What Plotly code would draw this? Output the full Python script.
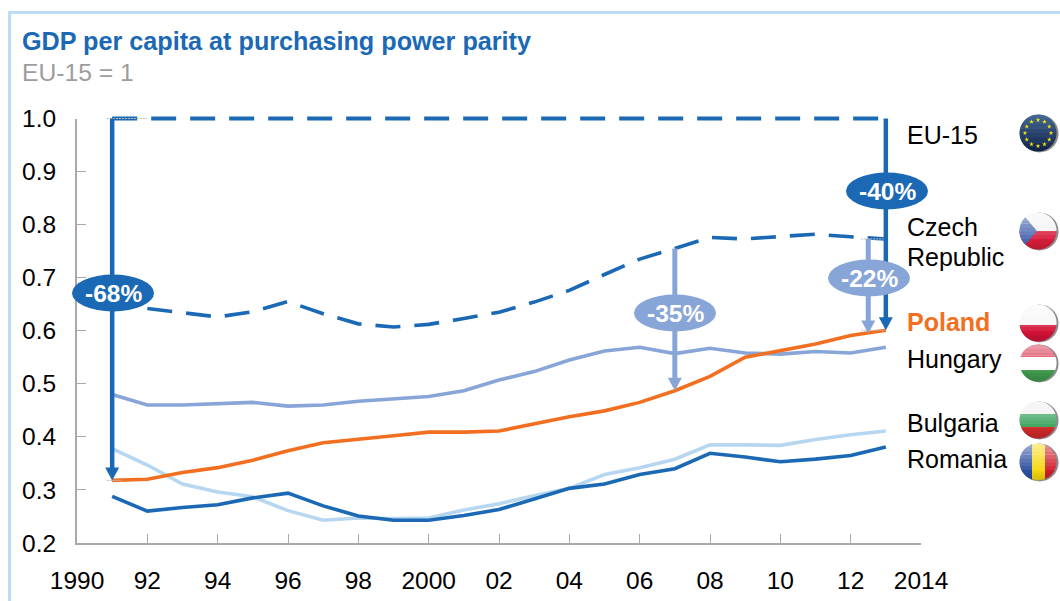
import numpy as np
import plotly.graph_objects as go

# ---------- data ----------
years = list(range(1991, 2014))
eu15 = [1.0] * 23
czech_years = list(range(1992, 2014))
czech = [.642, .634, .626, .636, .655, .632, .613, .607, .612, .623, .635, .654, .676, .706, .735, .755, .776, .773, .777, .782, .777, .773]
hungary = [.48, .46, .46, .463, .465, .458, .46, .467, .471, .476, .487, .507, .523, .545, .562, .569, .557, .567, .558, .556, .561, .558, .569]
poland = [.318, .32, .333, .342, .356, .374, .389, .395, .402, .409, .409, .411, .424, .438, .449, .465, .487, .514, .55, .562, .575, .591, .601]
bulgaria = [.378, .347, .311, .296, .287, .261, .243, .247, .246, .247, .262, .274, .289, .303, .329, .342, .358, .385, .385, .384, .395, .404, .411]
romania = [.288, .26, .267, .272, .285, .294, .27, .251, .243, .243, .252, .263, .283, .303, .311, .329, .34, .369, .362, .353, .358, .365, .381]

x_ticks = list(range(1990, 2015, 2))
x_labels = ["1990", "92", "94", "96", "98", "2000", "02", "04", "06", "08", "10", "12", "2014"]
y_ticks = [.2, .3, .4, .5, .6, .7, .8, .9, 1.0]
y_labels = ["0.2", "0.3", "0.4", "0.5", "0.6", "0.7", "0.8", "0.9", "1.0"]

# (x year, from, to, label)
gaps_dark = [(1991, 1.0, .318, "-68%"), (2013, 1.0, .601, "-40%")]
gaps_light = [(2007, .755, .487, "-35%"), (2012.5, .773, .595, "-22%")]

# ---------- style ----------
W, H = 1060, 601
FONT = "Liberation Sans"
BLUE = "#1b69b5"
MID = "#88a5d8"
ORANGE = "#f26f21"
PALE = "#b7d7f1"
GREY = "#a9a9a9"
FS = 24.5
LS = 25
PLOT_TOP, PLOT_BOTTOM = 118.5, 543
TOP_ROOM = 0.02  # extra value room so the line at 1.0 is not cut by the plot edge

fig = go.Figure()


def series(x, y, color, dash="solid", width=3.6, yaxis="y"):
    fig.add_trace(go.Scatter(x=x, y=y, yaxis=yaxis, mode="lines", hoverinfo="skip", showlegend=False, cliponaxis=False,
                             line=dict(color=color, width=width, dash=dash, shape="linear")))


series(years, bulgaria, PALE)
series(years, romania, BLUE)
series(years, hungary, MID)
series(years, poland, ORANGE)
series(czech_years, czech, BLUE, "25px,14px")
series(years, eu15, BLUE, "25px,14px", 4, yaxis="y3")

# thin guide ticks at arrow ends
for xs, v in [((1990.85, 1992), 1.0), ((1990.85, 1991.3), .318), ((2012.3, 2013), .773), ((2012.3, 2013), .601)]:
    series(list(xs), [v, v], "#bdbdbd", "2px,1px", 1, yaxis="y3")

shapes = []
annos = []


def head(x, v, color, hw=7, hh=13):
    shapes.append(dict(type="path", xref="x", yref="y", xsizemode="pixel", ysizemode="pixel",
                       xanchor=x, yanchor=v, path=f"M {-hw} {hh} L {hw} {hh} L 0 0 Z",
                       fillcolor=color, line=dict(width=0), layer="above"))


for x, a, b, _ in gaps_light:
    series([x, x], [a, b + .015], MID, width=5, yaxis="y3")
    head(x, b, MID)
for x, a, b, _ in gaps_dark:
    series([x, x], [a, b + .015], BLUE, width=4.5, yaxis="y3")
    head(x, b, BLUE)

# ---------- pixel overlay helpers ----------
O = dict(xref="x2", yref="y2")


def ellipse(cx, cy, color, text):
    shapes.append(dict(type="circle", **O, x0=cx - 41, x1=cx + 41, y0=cy - 18.5, y1=cy + 18.5,
                       fillcolor=color, line=dict(width=0), layer="above"))
    annos.append(dict(**O, x=cx, y=cy, text=text, showarrow=False, xanchor="center", yanchor="middle",
                      font=dict(family=FONT, size=24.5, color="white", weight="bold")))


ellipse(113, 293, BLUE, gaps_dark[0][3])
ellipse(887, 191, BLUE, gaps_dark[1][3])
ellipse(675, 313, MID, gaps_light[0][3])
ellipse(869, 278, MID, gaps_light[1][3])


def text(x, y, s, color="black", size=LS, bold=False, anchor="left"):
    annos.append(dict(**O, x=x, y=y, text=s, showarrow=False, xanchor=anchor, yanchor="middle", align="left",
                      font=dict(family=FONT, size=size, color=color, weight="bold" if bold else "normal")))


text(20, 41, "GDP per capita at purchasing power parity", BLUE, 25.2, True)
text(20, 72, "EU-15 = 1", "#9d9d9d", 24.7)
text(905, 135, "EU-15")
text(905, 227, "Czech")
text(905, 257, "Republic")
text(905, 322, "Poland", ORANGE, LS, True)
text(905, 359, "Hungary")
text(905, 423, "Bulgaria")
text(905, 459, "Romania")

# frame
shapes.append(dict(type="path", **O, path="M 9.5 601 L 9.5 12.5 L 1060 12.5", line=dict(color="#bcdcf5", width=3),
                   fillcolor="rgba(0,0,0,0)", layer="below"))


# ---------- flags ----------
def seg(cx, cy, r, top, bot, left=None, right=None, apex=None, slope=0.0):
    """Polygon of the part of a circle between two heights (optionally between two x, or left of a wedge)."""
    ys = np.linspace(max(top, cy - r), min(bot, cy + r), 32)
    half = np.sqrt(np.maximum(r * r - (ys - cy) ** 2, 0))
    xl = cx - half if left is None else np.maximum(cx - half, left)
    xr = cx + half if right is None else np.minimum(cx + half, right)
    if apex is not None:
        xr = np.minimum(xr, apex - np.abs(ys - cy) * slope)
    xl = np.minimum(xl, xr)
    pts = list(zip(xr, ys)) + list(zip(xl[::-1], ys[::-1]))
    return "M " + " L ".join(f"{a:.2f} {b:.2f}" for a, b in pts) + " Z"


def fill(path, color, opacity=1):
    shapes.append(dict(type="path", **O, path=path, fillcolor=color, opacity=opacity, line=dict(width=0), layer="below"))


def gloss(cx, cy, r):
    for i in range(7):
        t = cy - r + i * r * 0.2
        fill(seg(cx, cy, r, t, t + r * 0.2 + .3), "white", 0.5 - i * 0.07)
    for i in range(5):
        t = cy + r * (0.5 + i * 0.1)
        fill(seg(cx, cy, r, t, t + r * 0.1 + .2), "black", 0.03 + i * 0.025)


def base(cx, cy, r):
    fill(seg(cx + 1.5, cy + .5, r + .5, cy - r - 2, cy + r + 2), "#8c8c8c")


FX, R = 1038, 18.5
# EU-15
cy = 133
base(FX, cy, R)
for i in range(8):
    t = cy - R + i * 2 * R / 8
    fill(seg(FX, cy, R, t, t + 2 * R / 8 + .3), f"rgb({66 - i * 7},{100 - i * 9},{145 - i * 10})")
# Czech
cy = 231
base(FX, cy, R)
fill(seg(FX, cy, R, cy - R, cy), "#f3f3f3")
fill(seg(FX, cy, R, cy, cy + R), "#d81e3c")
fill(seg(FX, cy, R, cy - R, cy + R, apex=FX - 1, slope=0.85), "#4a69b0")
gloss(FX, cy, R)
# Poland
cy = 323
base(FX, cy, R)
fill(seg(FX, cy, R, cy - R, cy + 2), "#f6f6f6")
fill(seg(FX, cy, R, cy + 2, cy + R), "#d41338")
gloss(FX, cy, R)
# Hungary
cy = 363
base(FX, cy, R)
fill(seg(FX, cy, R, cy - R, cy - 6), "#d8324e")
fill(seg(FX, cy, R, cy - 6, cy + 7), "#ffffff")
fill(seg(FX, cy, R, cy + 7, cy + R), "#3f9a4c")
gloss(FX, cy, R)
# Bulgaria
cy = 420
base(FX, cy, R)
fill(seg(FX, cy, R, cy - R, cy - 6), "#ededed")
fill(seg(FX, cy, R, cy - 6, cy + 7), "#35a05a")
fill(seg(FX, cy, R, cy + 7, cy + R), "#cf2a2a")
gloss(FX, cy, R)
# Romania
cy = 462
base(FX, cy, R)
fill(seg(FX, cy, R, cy - R, cy + R, right=FX - 6), "#2c4f9e")
fill(seg(FX, cy, R, cy - R, cy + R, left=FX - 6, right=FX + 7), "#f6d90f")
fill(seg(FX, cy, R, cy - R, cy + R, left=FX + 7), "#cf1f2e")
gloss(FX, cy, R)

# EU stars
ang = np.arange(12) * np.pi / 6
fig.add_trace(go.Scatter(x=FX + 13 * np.cos(ang), y=133 + 13 * np.sin(ang), xaxis="x2", yaxis="y2", mode="markers",
                         marker=dict(symbol="star", size=3.5, color="#f2e311", line=dict(width=0)),
                         hoverinfo="skip", showlegend=False))

axis_common = dict(showgrid=False, zeroline=False, showline=True, linecolor=GREY, ticks="inside", ticklen=9,
                   tickcolor=GREY, automargin=False, tickfont=dict(family=FONT, size=FS, color="black"))

px_per_value = (PLOT_BOTTOM - PLOT_TOP) / 0.8
fig.update_layout(
    width=W, height=H, margin=dict(l=0, r=0, t=0, b=0), autosize=False,
    paper_bgcolor="white", plot_bgcolor="rgba(0,0,0,0)", showlegend=False,
    shapes=shapes, annotations=annos,
    xaxis=dict(domain=[77 / W, 921 / W], range=[1990, 2014], anchor="y", tickmode="array", tickvals=x_ticks,
               ticktext=x_labels, linewidth=1.5, tickwidth=1.2, ticklabelstandoff=15, tickangle=0, **axis_common),
    yaxis=dict(domain=[1 - PLOT_BOTTOM / H, 1 - PLOT_TOP / H], range=[.2, 1.0], anchor="x", tickmode="array", tickvals=y_ticks,
               ticktext=y_labels, linewidth=2, tickwidth=1.2, ticklabelstandoff=14, **axis_common),
    yaxis3=dict(domain=[1 - PLOT_BOTTOM / H, 1 - (PLOT_TOP - TOP_ROOM * px_per_value) / H], range=[.2, 1.0 + TOP_ROOM],
                anchor="x", visible=False, automargin=False, fixedrange=True),
    xaxis2=dict(domain=[0, 1], range=[0, W], visible=False, anchor="y2", fixedrange=True, automargin=False),
    yaxis2=dict(domain=[0, 1], range=[H, 0], visible=False, anchor="x2", fixedrange=True, automargin=False),
)

fig.write_html("out.html", config=dict(displayModeBar=False),
               post_script="document.body.style.margin='0';document.body.style.overflow='hidden';")
